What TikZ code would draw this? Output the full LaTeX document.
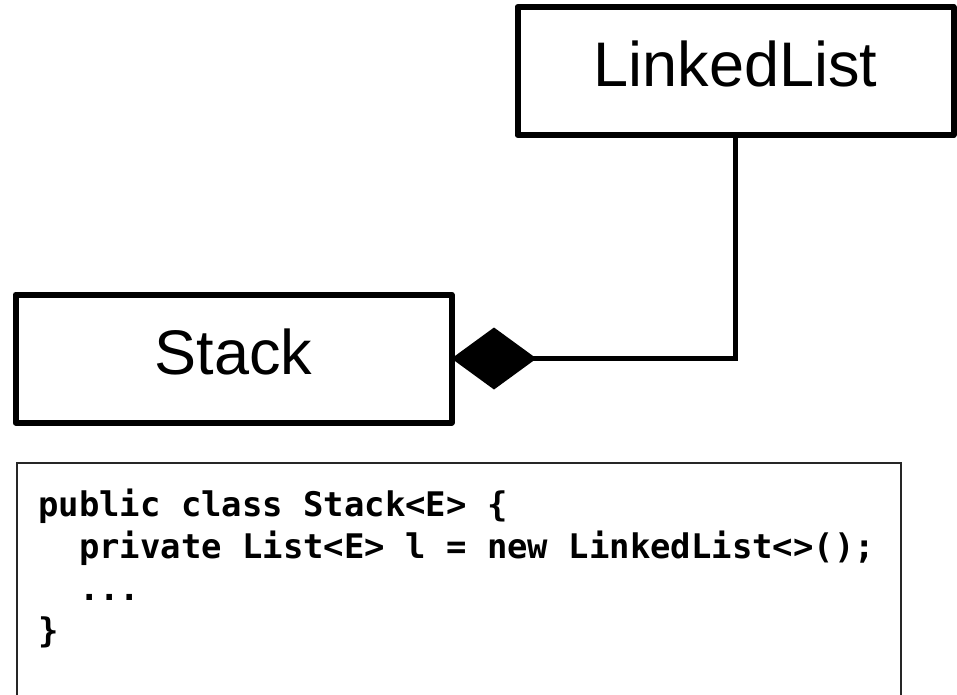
\documentclass[tikz,border=0pt]{standalone}
\usepackage{fontspec}
\setmainfont{Liberation Sans}
\newfontfamily\codefont{DejaVu Sans Mono}
\usetikzlibrary{arrows.meta,positioning}

\newcommand{\ind}{\hphantom{xx}}

\tikzset{
  classbox/.style={draw, line width=6pt, line join=round, minimum width=436pt,
    minimum height=128pt, inner sep=0pt, outer sep=0pt, text height=45pt,
    text depth=14pt, font=\fontsize{63}{70}\selectfont},
  compo/.style={line width=5pt, -{Diamond[length=85pt,width=62pt]}},
  codetext/.style={anchor=base west, inner sep=0pt, align=left,
    font=\codefont\bfseries\fontsize{33.9}{42}\selectfont}
}

\begin{document}
\begin{tikzpicture}[x=1pt,y=-1pt]
    \useasboundingbox (0,0) rectangle (957,694);
    \clip (0,0) rectangle (957,694);

    % Classes
    \node[classbox] (list) at (735.5,71) {LinkedList};
    \node[classbox] (stack) at (233.5,358.5) {Stack};

    % Composition
    \draw[compo] (list.south) |- (stack.east);

    % Source code (base is the last line)
    \draw[line width=1.5pt, black!85] (17,463) rectangle (901,720);
    \node[codetext] (code) at (38,642) {public class Stack<E> \{\\
      \ind private List<E> l = new LinkedList<>();\\
      \ind ...\\
      \}};

\end{tikzpicture}
\end{document}
